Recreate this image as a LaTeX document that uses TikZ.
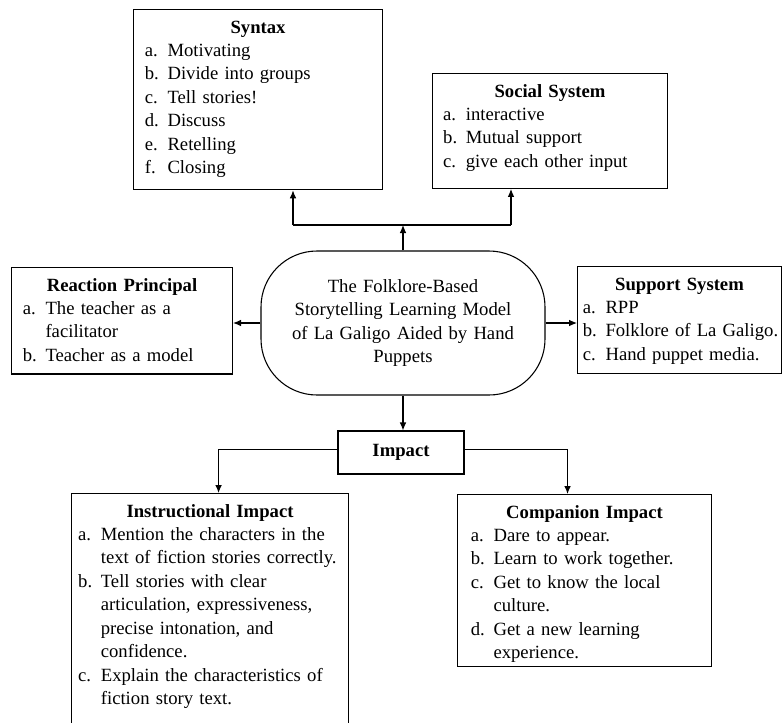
\documentclass[tikz,border=0pt]{standalone}
\usepackage{fontspec}
\setmainfont{Liberation Serif}
\usetikzlibrary{arrows.meta}

\newcommand{\boxfont}{\fontsize{14}{17.6}\selectfont}
\newcommand{\boxhead}[1]{\par{\centering\bfseries #1\par}}
\newcommand{\entry}[2]{\par\hangindent=17pt\hangafter=1\noindent\makebox[17pt][l]{#1}#2\par}
\newcommand{\tailgap}[1]{\par\nointerlineskip\vbox to #1{}}

\tikzstyle{listbox} = [draw,line width=0.8pt,anchor=north west,align=left,inner ysep=0pt,font=\boxfont]
\tikzstyle{modelbox} = [draw,line width=0.8pt,rounded corners=42pt,align=center,font=\boxfont]
\tikzstyle{headbox} = [draw,line width=0.8pt,font=\boxfont\bfseries]
\tikzstyle{flow} = [draw,line width=0.8pt,-{Latex[length=6pt,width=5pt]}]
\tikzstyle{joint} = [draw,line width=0.8pt,-]

\begin{document}
\begin{tikzpicture}[x=0.75pt,y=-0.75pt]
      \useasboundingbox (0,0) rectangle (782,722);
      % nodes
      \node[listbox, text width=169.75pt, inner xsep=8.5pt] (syntax) at (133,9) {%
        \boxhead{Syntax}
        \entry{a.}{Motivating}
        \entry{b.}{Divide into groups}
        \entry{c.}{Tell stories!}
        \entry{d.}{Discuss}
        \entry{e.}{Retelling}
        \entry{f.}{Closing}
        \tailgap{9pt}};
      \node[listbox, text width=160.25pt, inner xsep=8pt] (social) at (432,73) {%
        \boxhead{Social System}
        \entry{a.}{interactive}
        \entry{b.}{Mutual support}
        \entry{c.}{give each other input}
        \tailgap{12.75pt}};
      \node[listbox, text width=148.75pt, inner xsep=8.5pt] (reaction) at (11,267) {%
        \boxhead{Reaction Principal}
        \entry{a.}{The teacher as a\newline facilitator}
        \entry{b.}{Teacher as a model}
        \tailgap{9.25pt}};
      \node[listbox, text width=145pt, inner xsep=4pt] (support) at (577,266) {%
        \boxhead{Support System}
        \entry{a.}{RPP}
        \entry{b.}{\mbox{Folklore of La Galigo.}}
        \entry{c.}{Hand puppet media.}
        \tailgap{6.75pt}};
      \node[modelbox, text width=185pt, inner xsep=14pt, minimum height=108pt] (main) at (403,323)
        {The Folklore-Based\\ Storytelling Learning Model\\ of La Galigo Aided by Hand\\ Puppets};
      \node[headbox, minimum width=94.5pt, minimum height=32.25pt] (impact) at (401,452.5) {Impact};
      \node[listbox, text width=197.75pt, inner xsep=5pt] (instr) at (71,493) {%
        \boxhead{Instructional Impact}
        \entry{a.}{Mention the characters in the\newline text of fiction stories correctly.}
        \entry{b.}{Tell stories with clear\newline articulation, expressiveness,\newline precise intonation, and\newline confidence.}
        \entry{c.}{Explain the characteristics of\newline fiction story text.}
        \tailgap{20pt}};
      \node[listbox, text width=170.5pt, inner xsep=10pt] (companion) at (457,494) {%
        \boxhead{Companion Impact}
        \entry{a.}{Dare to appear.}
        \entry{b.}{Learn to work together.}
        \entry{c.}{Get to know the local\newline culture.}
        \entry{d.}{Get a new learning\newline experience.}
        \tailgap{3pt}};

      %edges
      \coordinate (split) at (403,225);
      \coordinate (synin) at (293,225);
      \coordinate (socin) at (511,225);
      \path[flow] (main.north) -- (split);
      \path[joint] (synin) -- (socin);
      \path[flow] (synin) -- (synin |- syntax.south);
      \path[flow] (socin) -- (socin |- social.south);
      \path[flow] (main.west) -- (main.west -| reaction.east);
      \path[flow] (main.east) -- (main.east -| support.west);
      \path[flow] (main.south) -- (main.south |- impact.north);
      \path[flow] ([yshift=2.6pt]impact.west) -| ([xshift=6.4pt]instr.north);
      \path[flow] ([yshift=2.6pt]impact.east) -| ([xshift=-12.75pt]companion.north);
    \end{tikzpicture}
\end{document}
